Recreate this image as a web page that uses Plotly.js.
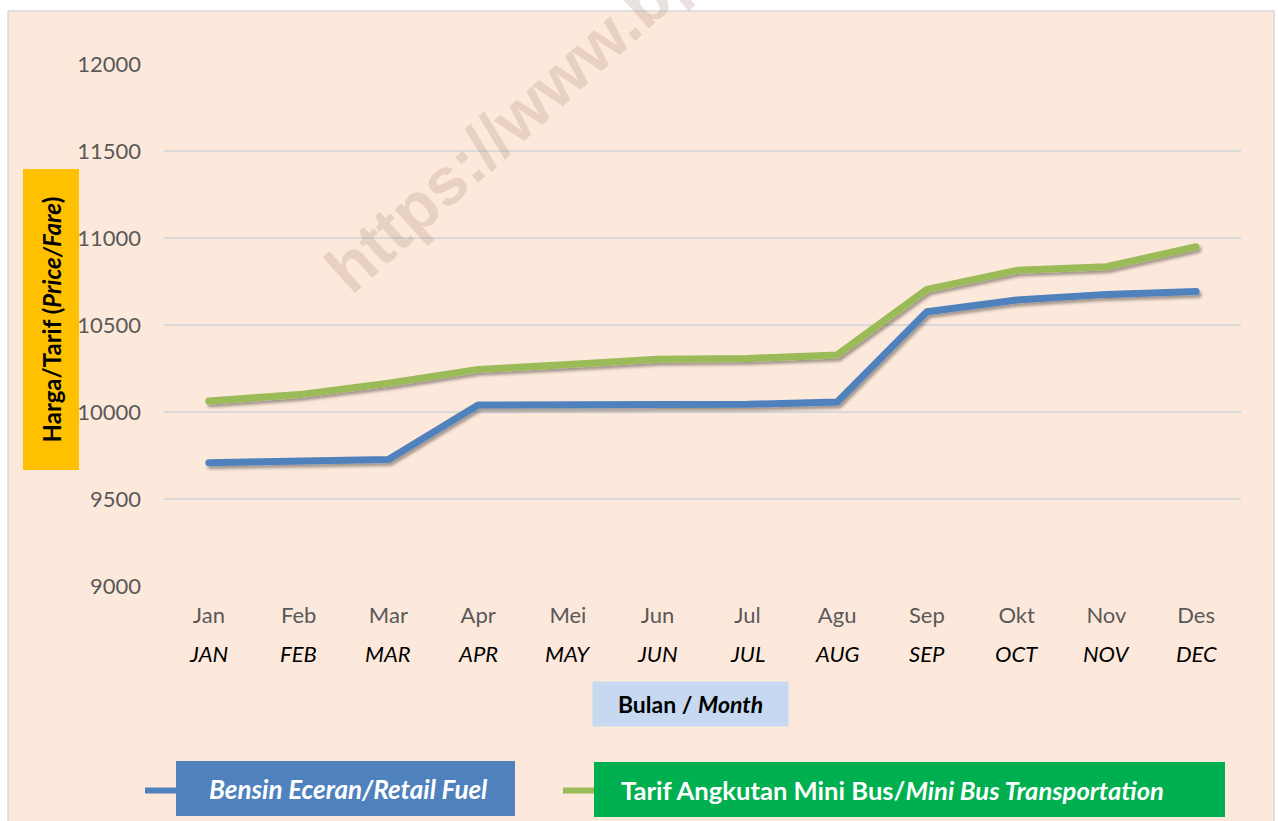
<!DOCTYPE html>
<html>
<head>
<meta charset="utf-8">
<script src="https://cdn.plot.ly/plotly-3.0.1.min.js"></script>
<style>
  html, body { margin: 0; padding: 0; background: #ffffff; }
  #chart { width: 1278px; height: 821px; }
  #chart .scatterlayer .js-line { filter: url(#lineShadow); stroke-linecap: round; stroke-linejoin: round; }
</style>
</head>
<body>
<svg width="0" height="0" style="position:absolute">
  <defs>
    <filter id="lineShadow" x="-10%" y="-30%" width="120%" height="160%">
      <feDropShadow dx="2" dy="3" stdDeviation="1.6" flood-color="#000000" flood-opacity="0.35"/>
    </filter>
  </defs>
</svg>
<div id="chart"></div>
<script>
// ---- data ----
const monthsID = ["Jan", "Feb", "Mar", "Apr", "Mei", "Jun", "Jul", "Agu", "Sep", "Okt", "Nov", "Des"];
const monthsEN = ["JAN", "FEB", "MAR", "APR", "MAY", "JUN", "JUL", "AUG", "SEP", "OCT", "NOV", "DEC"];
const retailFuel = [9709, 9715, 9727, 10040, 10041, 10043, 10044, 10058, 10576, 10644, 10676, 10692];
const miniBusFare = [10063, 10100, 10165, 10245, 10273, 10303, 10308, 10328, 10705, 10814, 10835, 10950];
const yTicks = [9000, 9500, 10000, 10500, 11000, 11500, 12000];
const seriesNames = ["Bensin Eceran/Retail Fuel", "Tarif Angkutan Mini Bus/Mini Bus Transportation"];

const FONT = "Lato, 'Open Sans', sans-serif";
const BLUE = "#4F81BD", GREEN = "#9BBB59";

const traces = [
  { x: monthsID, y: retailFuel, name: seriesNames[0], type: "scatter", mode: "lines",
    line: { color: BLUE, width: 7 }, hoverinfo: "x+y" },
  { x: monthsID, y: miniBusFare, name: seriesNames[1], type: "scatter", mode: "lines",
    line: { color: GREEN, width: 7 }, hoverinfo: "x+y" }
];

// pixel -> paper helpers (plot area 164..1241 x, 64..586 y)
const L = 164, R = 1241, T = 64, B = 586;
const px = v => (v - L) / (R - L);
const py = v => (B - v) / (B - T);

const annotations = [];
// second row of month labels (English, italic)
monthsEN.forEach((m, i) => {
  annotations.push({ x: monthsID[i], xref: "x", y: py(653), yref: "paper",
    text: "<i>" + m + "</i>", showarrow: false, xanchor: "center", yanchor: "middle",
    font: { family: FONT, size: 22, color: "#000000" } });
});
// y-axis title box
annotations.push({ x: px(50.5), y: py(320), xref: "paper", yref: "paper",
  text: "<b>Harga/Tarif (<i>Price/Fare</i>)</b>", textangle: -90, showarrow: false,
  width: 298, height: 53, bgcolor: "#FFC000", xanchor: "center", yanchor: "middle",
  font: { family: FONT, size: 24, color: "#000000" } });
// x-axis title box
annotations.push({ x: px(690.5), y: py(704), xref: "paper", yref: "paper",
  text: "<b>Bulan / <i>Month</i></b>", showarrow: false,
  width: 193, height: 42, bgcolor: "#C6D9F1", xanchor: "center", yanchor: "middle",
  font: { family: FONT, size: 23, color: "#000000" } });
// legend texts
annotations.push({ x: px(348.5), y: py(789), xref: "paper", yref: "paper",
  text: "<b><i>" + seriesNames[0] + "</i></b>", showarrow: false,
  xanchor: "center", yanchor: "middle",
  font: { family: FONT, size: 26, color: "#ffffff" } });
annotations.push({ x: px(619), y: py(790), xref: "paper", yref: "paper",
  text: "<b>Tarif Angkutan Mini Bus/<i>Mini Bus Transportation</i></b>", showarrow: false,
  xanchor: "left", yanchor: "middle",
  font: { family: FONT, size: 25.6, color: "#ffffff" } });
// watermark
annotations.push({ x: px(594), y: py(47), xref: "paper", yref: "paper",
  text: "<b>https://www.bps.go.id</b>", textangle: -42, showarrow: false,
  xanchor: "center", yanchor: "middle",
  font: { family: "'Liberation Sans', Arial, sans-serif", size: 67, color: "rgba(160,125,105,0.22)" } });

const shapes = [
  // chart area background + border
  { type: "rect", xref: "paper", yref: "paper", x0: px(8), x1: px(1274), y0: py(840), y1: py(11),
    fillcolor: "#FDE9DB", line: { color: "#D9D9D9", width: 1.5 }, layer: "below" },
  // legend boxes
  { type: "rect", xref: "paper", yref: "paper", x0: px(176), x1: px(515), y0: py(816), y1: py(761),
    fillcolor: BLUE, line: { width: 0 }, layer: "below" },
  { type: "rect", xref: "paper", yref: "paper", x0: px(594), x1: px(1225), y0: py(817), y1: py(762),
    fillcolor: "#00B050", line: { width: 0 }, layer: "below" },
  // legend line glyphs
  { type: "line", xref: "paper", yref: "paper", x0: px(145), x1: px(176), y0: py(790.5), y1: py(790.5),
    line: { color: BLUE, width: 6 } },
  { type: "line", xref: "paper", yref: "paper", x0: px(563), x1: px(594), y0: py(790.5), y1: py(790.5),
    line: { color: GREEN, width: 6 } }
];

const layout = {
  width: 1278, height: 821,
  margin: { l: L, r: 1278 - R, t: T, b: 821 - B, pad: 0 },
  paper_bgcolor: "#ffffff",
  plot_bgcolor: "rgba(0,0,0,0)",
  showlegend: false,
  font: { family: FONT, color: "#595959" },
  xaxis: {
    type: "category", range: [-0.5, 11.5], tickvals: monthsID, ticktext: monthsID,
    showgrid: false, zeroline: false, showline: false, ticks: "",
    ticklabelstandoff: 14,
    tickfont: { family: FONT, size: 22, color: "#595959" }, fixedrange: true
  },
  yaxis: {
    range: [9000, 12000], tickvals: yTicks, tickformat: "d", showgrid: true, gridcolor: "#D9D9D9", gridwidth: 2,
    zeroline: false, showline: false, ticks: "", ticklabelstandoff: 22,
    tickfont: { family: FONT, size: 22, color: "#595959" }, fixedrange: true
  },
  annotations: annotations,
  shapes: shapes
};

Plotly.newPlot("chart", traces, layout, { displayModeBar: false, staticPlot: true });
</script>
</body>
</html>
